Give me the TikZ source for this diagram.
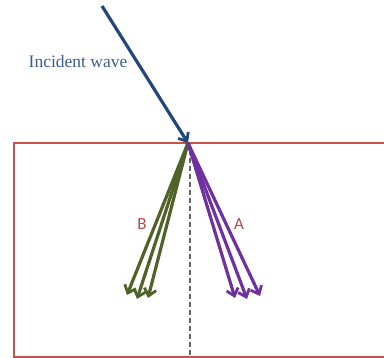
\documentclass[tikz,border=0pt]{standalone}
\usepackage{fontspec}
\setmainfont{Liberation Serif}
\newfontfamily\labfont{Carlito}
\usetikzlibrary{arrows.meta}
\definecolor{boxred}{HTML}{C9504F}
\definecolor{incblue}{HTML}{21477C}
\definecolor{txtblue}{HTML}{3A5D91}
\definecolor{wgreen}{HTML}{4F6228}
\definecolor{wpurple}{HTML}{7030A0}
\definecolor{labred}{HTML}{B24A48}
\tikzset{
  ray/.style={line width=3.2pt,-{Straight Barb[length=7pt,width=12pt,line width=2.8pt]}},
  lab/.style={font=\labfont\fontsize{17}{17}\selectfont,text=labred,inner sep=0pt},
}
\begin{document}
\begin{tikzpicture}[x=1pt,y=-1pt]
\useasboundingbox (0,0) rectangle (384,358);
\clip (0,0) rectangle (384,358);
\draw[boxred,line width=2.6pt] (390,143) -- (14,143) -- (14,357) -- (390,357);
\coordinate (O) at (188,143);
\coordinate (S) at (102,6);
\coordinate (D1) at (190,150);
\coordinate (D2) at (190,360);
\draw[gray!80!black,dash pattern=on 5pt off 3pt,line width=1.3pt] (D1) -- (D2);
\coordinate (g1) at (127,295);
\coordinate (g2) at (137,299);
\coordinate (g3) at (148,298);
\coordinate (p1) at (235,298);
\coordinate (p2) at (247,299);
\coordinate (p3) at (260,296);
\foreach \t in {g1,g2,g3} \draw[ray,wgreen] (O) -- (\t);
\foreach \t in {p1,p2,p3} \draw[ray,wpurple] (O) -- (\t);
\draw[ray,incblue] (S) -- (O);
\node[font=\fontsize{17.5}{18}\selectfont,text=txtblue,inner sep=0pt] (inc) at (78,62) {Incident wave};
\node[lab] (B) at (142,224) {B};
\node[lab] (A) at (239,224) {A};
\end{tikzpicture}
\end{document}
